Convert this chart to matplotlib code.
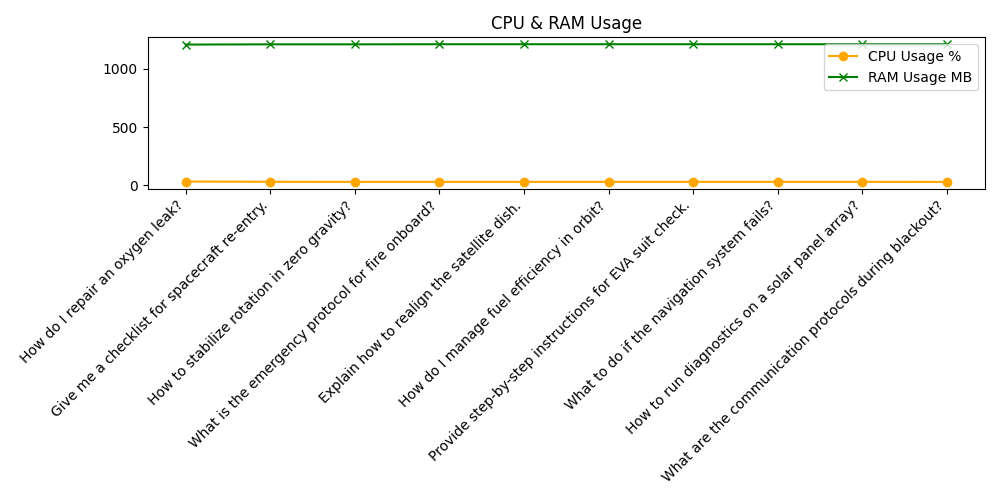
import matplotlib
matplotlib.use("Agg")
import matplotlib.pyplot as plt

questions = [
    "How do I repair an oxygen leak?",
    "Give me a checklist for spacecraft re-entry.",
    "How to stabilize rotation in zero gravity?",
    "What is the emergency protocol for fire onboard?",
    "Explain how to realign the satellite dish.",
    "How do I manage fuel efficiency in orbit?",
    "Provide step-by-step instructions for EVA suit check.",
    "What to do if the navigation system fails?",
    "How to run diagnostics on a solar panel array?",
    "What are the communication protocols during blackout?",
]
cpu_usage = [34.0, 31.5, 31.0, 31.0, 31.0, 31.0, 31.0, 31.0, 31.0, 30.5]
ram_usage = [1209, 1211, 1211, 1212, 1212, 1212, 1212, 1212, 1212, 1212]

fig, ax = plt.subplots(figsize=(10, 5), dpi=100)
ax.plot(questions, cpu_usage, marker="o", color="orange", label="CPU Usage %")
ax.plot(questions, ram_usage, marker="x", color="green", label="RAM Usage MB")
ax.set_title("CPU & RAM Usage")
plt.xticks(rotation=45, ha="right")
ax.legend()
plt.tight_layout()
plt.savefig("out.png")
